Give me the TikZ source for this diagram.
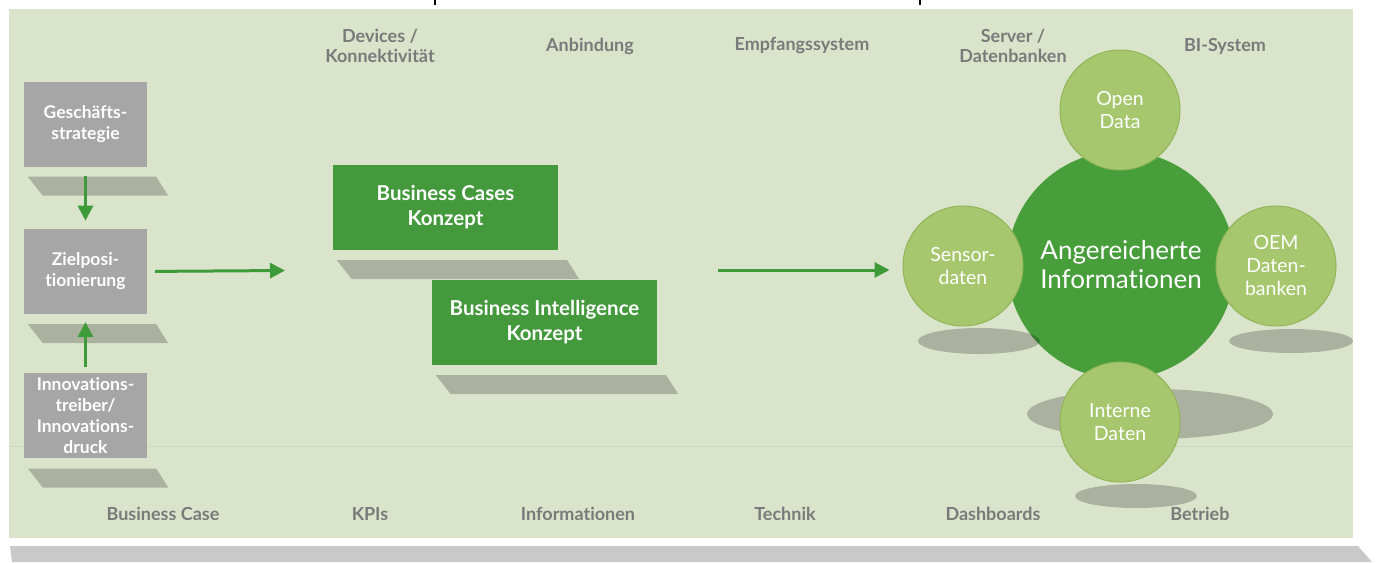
\documentclass[tikz,border=0pt]{standalone}
\usepackage{fontspec}
\setmainfont{Lato}[Ligatures=NoCommon]
\usetikzlibrary{positioning,arrows.meta}

\definecolor{panelgreen}{HTML}{DAE4CB}
\definecolor{panelline}{HTML}{CFD9BF}
\definecolor{bandgray}{HTML}{C9C9C9}
\definecolor{boxgray}{HTML}{A6A6A6}
\definecolor{boxgreen}{HTML}{43993B}
\definecolor{circdark}{HTML}{479E3B}
\definecolor{circlight}{HTML}{A7C76E}
\definecolor{circedge}{HTML}{8FB558}
\definecolor{labelgray}{HTML}{7A7A7A}
\definecolor{flowgreen}{HTML}{3F9B3A}

\begin{document}
\begin{tikzpicture}[x=1pt,y=-1pt,
		graybox/.style={fill=boxgray, minimum width=123pt, minimum height=85pt, inner sep=0pt,
			text=white, align=center, font=\bfseries\fontsize{17.5}{21}\selectfont},
		greenbox/.style={fill=boxgreen, minimum width=225pt, minimum height=85pt, inner sep=0pt,
			text=white, align=center, font=\bfseries\fontsize{20.5}{25}\selectfont},
		bigcirc/.style={circle, fill=circdark, minimum size=228pt, inner sep=0pt,
			text=white, align=center, font=\fontsize{26}{29}\selectfont},
		smallcirc/.style={circle, fill=circlight, draw=circedge, line width=1pt, minimum size=120pt,
			inner sep=0pt, text=white, align=center, font=\fontsize{19.5}{23}\selectfont},
		collabel/.style={text=labelgray, align=center, font=\bfseries\fontsize{18}{20.5}\selectfont},
		shade/.style={fill=black, fill opacity=0.22},
		flow/.style={draw=flowgreen, line width=3pt, -{Triangle[length=15pt,width=15pt]}}]

			\useasboundingbox (0,0) rectangle (1378,562);

			\fill[bandgray] (10,546) -- (1358,546) -- (1372,562) -- (12,562) -- cycle;
			\fill[panelgreen] (9,9) rectangle (1353,538);
			\draw[panelline, line width=1pt] (9,446) -- (1353,446);
			\draw[line width=2pt] (435,0) -- (435,5);
			\draw[line width=2pt] (920,0) -- (920,5);

			\foreach \x/\t [count=\i] in {380/{Devices /\\Konnektivität}, 590/Anbindung, 802/Empfangssystem,
				1013/{Server /\\Datenbanken}, 1225/BI-System}
			{
					\node[collabel] (top\i) at (\x,46) {\t};
			}
			\foreach \x/\t [count=\i] in {163/Business Case, 370/KPIs, 578/Informationen, 785/Technik,
				993/Dashboards, 1200/Betrieb}
			{
					\node[collabel] (bot\i) at (\x,514) {\t};
			}

			\node[graybox] (gs) at (85.5,124) {Geschäfts-\\strategie};
			\node[graybox, below=62pt of gs] (zp) {Zielposi-\\tionierung};
			\node[graybox, below=59pt of zp] (it) {Innovations-\\treiber/\\Innovations-\\druck};

			\node[greenbox] (bc) at (445.5,207.5) {Business Cases\\Konzept};
			\node[greenbox] (bi) at (544.5,322.5) {Business Intelligence\\Konzept};

			\foreach \b in {gs, zp, it, bc, bi}
			{
					\fill[shade] ([shift={(4,10)}]\b.south west) -- ([shift={(9,10)}]\b.south east)
						-- ([shift={(21,29)}]\b.south east) -- ([shift={(19,29)}]\b.south west) -- cycle;
			}

			\fill[shade] (1150,414) ellipse [x radius=123, y radius=25];
			\fill[shade] (1291,341) ellipse [x radius=62, y radius=12];
			\fill[shade] (1136,496) ellipse [x radius=61, y radius=12];

			\node[bigcirc] (ai) at (1121,265) {Angereicherte\\Informationen};
			\fill[shade] (979,341) ellipse [x radius=61, y radius=13];

			\node[smallcirc] (od) at (1120,110) {Open\\Data};
			\node[smallcirc] (sd) at (963,266) {Sensor-\\daten};
			\node[smallcirc] (oem) at (1276,266) {OEM\\Daten-\\banken};
			\node[smallcirc] (id) at (1120,422) {Interne\\Daten};

			\coordinate (k1) at (285,270.5);
			\coordinate (k2) at (718,270);

			\draw[flow] ([yshift=-9pt]gs.south) -- ([yshift=8pt]zp.north);
			\draw[flow] ([yshift=6pt]it.north) -- ([yshift=-8pt]zp.south);
			\draw[flow] ([xshift=8pt]zp.east) -- (k1);
			\draw[flow, shorten >=13pt] (k2) -- (k2 -| sd.west);

\end{tikzpicture}
\end{document}
